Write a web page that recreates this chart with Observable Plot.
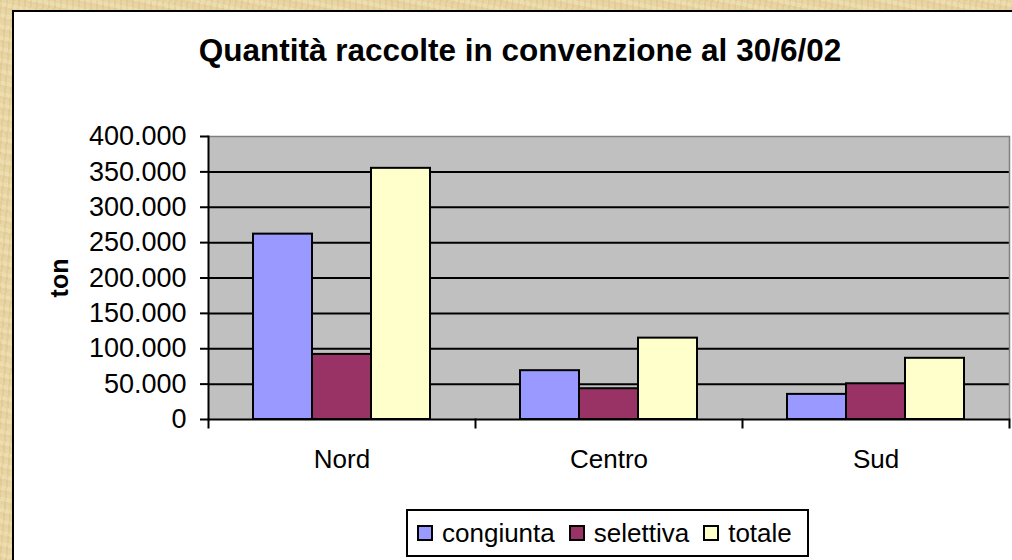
<!DOCTYPE html>
<html>
<head>
<meta charset="utf-8">
<script src="https://cdn.jsdelivr.net/npm/d3@7"></script>
<script src="https://cdn.jsdelivr.net/npm/@observablehq/plot@0.6"></script>
<style>
html, body { margin: 0; padding: 0; }
body {
  width: 1012px; height: 560px; overflow: hidden; position: relative;
  font-family: "Liberation Sans", Arial, sans-serif;
  background-color: #e9d6a4;
  background-image:
    repeating-linear-gradient(12deg, rgba(190,150,80,0.10) 0 3px, rgba(255,245,210,0.12) 3px 7px, rgba(200,165,100,0.08) 7px 11px),
    repeating-linear-gradient(95deg, rgba(170,130,70,0.08) 0 2px, rgba(255,250,220,0.10) 2px 6px);
}
#panel {
  position: absolute; left: 12px; top: 10px; width: 1030px; height: 580px;
  background: #fff; border: 2px solid #000; box-sizing: border-box;
}
#title {
  position: absolute; left: 0; width: 1040px; top: 35px;
  text-align: center; font-weight: bold; font-size: 31.5px; line-height: 31px; color: #000;
  white-space: nowrap;
}
#ylab {
  position: absolute; left: 59px; top: 278px;
  transform: translate(-50%, -50%) rotate(-90deg);
  font-weight: bold; font-size: 25px; line-height: 25px; color: #000;
}
#chart { position: absolute; left: 0; top: 0; }
#legend {
  position: absolute; left: 406px; top: 509px; width: 403px; height: 48px;
  box-sizing: border-box; border: 2px solid #000; background: #fff;
  display: flex; align-items: center; padding-left: 9px;
  font-size: 26px; color: #000;
}
#legend .item { display: flex; align-items: center; margin-right: 14px; }
#legend .sw { width: 16px; height: 16px; box-sizing: border-box; border: 2px solid #000; margin-right: 9px; }
</style>
</head>
<body>
<div id="panel"></div>
<div id="title"></div>
<div id="ylab"></div>
<div id="chart"></div>
<div id="legend"></div>
<script>
// ---- data ----
const titleText = "Quantità raccolte in convenzione al 30/6/02";
const yLabel = "ton";
const regions = ["Nord", "Centro", "Sud"];
const series = ["congiunta", "selettiva", "totale"];
const congiunta = [262000, 69000, 35500];
const selettiva = [92000, 43500, 50500];
const totale = [355000, 115000, 86500];
const seriesColors = ["#9999FF", "#993366", "#FFFFCC"];
const yTicks = [0, 50000, 100000, 150000, 200000, 250000, 300000, 350000, 400000];

const valuesBySeries = { congiunta, selettiva, totale };
const table = [];
regions.forEach((r, i) => series.forEach(s => table.push({ region: r, series: s, value: valuesBySeries[s][i] })));

const it = d3.formatLocale({ decimal: ",", thousands: ".", grouping: [3], currency: ["", " €"] });
const fmt = it.format(",");

document.getElementById("title").textContent = titleText;
document.getElementById("ylab").textContent = yLabel;

const chart = Plot.plot({
  width: 1012,
  height: 480,
  marginLeft: 207,
  marginRight: 3,
  marginTop: 136,
  marginBottom: 61,
  style: { background: "transparent", fontFamily: "'Liberation Sans', Arial, sans-serif", color: "#000", overflow: "visible" },
  fx: { domain: regions, padding: 0 },
  x: { domain: series, paddingInner: 0, paddingOuter: 0.75, axis: null },
  y: { domain: [0, 400000] },
  color: { domain: series, range: seriesColors },
  marks: [
    Plot.frame({ facet: "super", fill: "#c0c0c0" }),
    Plot.ruleY(yTicks.slice(1, -1), { stroke: "#000", strokeWidth: 2 }),
    Plot.ruleY(yTicks.slice(-1), { stroke: "#808080", strokeWidth: 1.5 }),
    Plot.barY(table, { fx: "region", x: "series", y: "value", fill: "series", stroke: "#000", strokeWidth: 2 }),
    Plot.ruleY([0], { stroke: "#000", strokeWidth: 2 }),
    Plot.frame({ facet: "super", anchor: "right", stroke: "#808080", strokeWidth: 1.5 }),
    Plot.frame({ facet: "super", anchor: "left", stroke: "#000", strokeWidth: 2 }),
    Plot.frame({ anchor: "left", stroke: "#000", strokeWidth: 2, insetTop: 283, insetBottom: -8 }),
    Plot.frame({ facet: "super", anchor: "right", stroke: "#000", strokeWidth: 2, insetTop: 283, insetBottom: -8 }),
    Plot.axisY(yTicks, { tickSize: 8, tickPadding: 14, fontSize: 27, strokeWidth: 2, tickFormat: fmt, label: null }),
    Plot.axisFx({ anchor: "bottom", tickSize: 0, tickPadding: 30, fontSize: 26, label: null })
  ]
});
document.getElementById("chart").appendChild(chart);

const legend = document.getElementById("legend");
series.forEach((s, i) => {
  const item = document.createElement("div");
  item.className = "item";
  const sw = document.createElement("div");
  sw.className = "sw";
  sw.style.background = seriesColors[i];
  const t = document.createElement("span");
  t.textContent = s;
  item.appendChild(sw);
  item.appendChild(t);
  legend.appendChild(item);
});
</script>
</body>
</html>
